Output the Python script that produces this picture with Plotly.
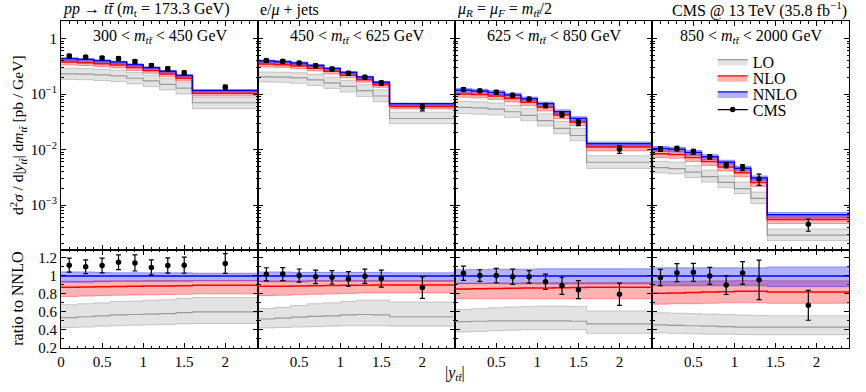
import plotly.graph_objects as go
from plotly.subplots import make_subplots

# bin edges in |y_tt| (last mass bin has one bin less)
edges_a = [0, 0.2, 0.4, 0.6, 0.8, 1.0, 1.2, 1.4, 1.6, 2.4]
edges_b = [0, 0.2, 0.4, 0.6, 0.8, 1.0, 1.2, 1.4, 2.4]
cms_x_a = [0.1, 0.3, 0.5, 0.7, 0.9, 1.1, 1.3, 1.5, 2.0]
cms_x_b = [0.1, 0.3, 0.5, 0.7, 0.9, 1.1, 1.3, 1.9]

mass_labels = ["300 < <i>m</i><sub><i>tt\u0304</i></sub> < 450 GeV",
               "450 < <i>m</i><sub><i>tt\u0304</i></sub> < 625 GeV",
               "625 < <i>m</i><sub><i>tt\u0304</i></sub> < 850 GeV",
               "850 < <i>m</i><sub><i>tt\u0304</i></sub> < 2000 GeV"]

# NNLO central values [pb/GeV]
nnlo_1 = [0.431, 0.42, 0.398, 0.377, 0.338, 0.299, 0.257, 0.216, 0.116]
nnlo_2 = [0.393, 0.382, 0.362, 0.328, 0.287, 0.244, 0.202, 0.163, 0.0665]
nnlo_3 = [0.1175, 0.114, 0.107, 0.096, 0.0826, 0.0665, 0.0481, 0.0362, 0.0127]
nnlo_4 = [0.0104, 0.0101, 0.00883, 0.00741, 0.00589, 0.00461, 0.00307, 0.000667]

# NNLO scale band (ratio to NNLO)
nnlo_up_1 = [1.045, 1.045, 1.04, 1.035, 1.035, 1.035, 1.035, 1.035, 1.03]
nnlo_dn_1 = [0.93, 0.93, 0.935, 0.94, 0.94, 0.94, 0.94, 0.94, 0.945]
nnlo_up_2 = [1.045, 1.045, 1.04, 1.04, 1.04, 1.04, 1.04, 1.04, 1.035]
nnlo_dn_2 = [0.935, 0.935, 0.935, 0.94, 0.94, 0.94, 0.94, 0.94, 0.94]
nnlo_up_3 = [1.07, 1.07, 1.075, 1.075, 1.075, 1.08, 1.08, 1.08, 1.08]
nnlo_dn_3 = [0.915, 0.915, 0.915, 0.912, 0.912, 0.91, 0.91, 0.91, 0.91]
nnlo_up_4 = [1.09, 1.09, 1.09, 1.09, 1.09, 1.09, 1.09, 1.1]
nnlo_dn_4 = [0.89, 0.89, 0.89, 0.89, 0.89, 0.89, 0.89, 0.88]

# NLO (ratio to NNLO)
nlo_1 = [0.873, 0.876, 0.88, 0.883, 0.885, 0.887, 0.889, 0.89, 0.895]
nlo_up_1 = [0.94, 0.94, 0.945, 0.945, 0.945, 0.948, 0.948, 0.95, 0.95]
nlo_dn_1 = [0.77, 0.775, 0.78, 0.785, 0.788, 0.79, 0.793, 0.795, 0.80]
nlo_2 = [0.884, 0.886, 0.888, 0.89, 0.892, 0.895, 0.897, 0.898, 0.90]
nlo_up_2 = [0.945, 0.945, 0.945, 0.948, 0.948, 0.95, 0.95, 0.95, 0.95]
nlo_dn_2 = [0.78, 0.785, 0.79, 0.795, 0.80, 0.805, 0.81, 0.81, 0.81]
nlo_3 = [0.855, 0.858, 0.86, 0.862, 0.865, 0.866, 0.868, 0.87, 0.873]
nlo_up_3 = [0.92, 0.92, 0.922, 0.922, 0.925, 0.925, 0.925, 0.925, 0.928]
nlo_dn_3 = [0.745, 0.745, 0.745, 0.745, 0.745, 0.745, 0.745, 0.745, 0.745]
nlo_4 = [0.807, 0.81, 0.815, 0.82, 0.825, 0.83, 0.83, 0.82]
nlo_up_4 = [0.94, 0.94, 0.942, 0.945, 0.945, 0.948, 0.948, 0.945]
nlo_dn_4 = [0.685, 0.69, 0.69, 0.695, 0.70, 0.70, 0.70, 0.695]

# LO (ratio to NNLO)
lo_1 = [0.535, 0.545, 0.555, 0.565, 0.57, 0.575, 0.58, 0.59, 0.60]
lo_up_1 = [0.68, 0.69, 0.70, 0.715, 0.72, 0.73, 0.735, 0.75, 0.76]
lo_dn_1 = [0.425, 0.43, 0.44, 0.445, 0.45, 0.455, 0.46, 0.465, 0.47]
lo_2 = [0.52, 0.53, 0.54, 0.55, 0.555, 0.565, 0.57, 0.565, 0.545]
lo_up_2 = [0.636, 0.65, 0.67, 0.69, 0.70, 0.715, 0.73, 0.73, 0.71]
lo_dn_2 = [0.42, 0.425, 0.43, 0.435, 0.44, 0.445, 0.445, 0.445, 0.44]
lo_3 = [0.49, 0.495, 0.50, 0.50, 0.50, 0.50, 0.50, 0.495, 0.465]
lo_up_3 = [0.625, 0.635, 0.645, 0.655, 0.66, 0.665, 0.665, 0.66, 0.61]
lo_dn_3 = [0.375, 0.38, 0.39, 0.395, 0.40, 0.40, 0.40, 0.40, 0.36]
lo_4 = [0.455, 0.45, 0.445, 0.44, 0.435, 0.43, 0.43, 0.43]
lo_up_4 = [0.59, 0.585, 0.58, 0.575, 0.57, 0.565, 0.56, 0.556]
lo_dn_4 = [0.364, 0.36, 0.355, 0.35, 0.35, 0.348, 0.345, 0.345]

# CMS data (ratio to NNLO) and total uncertainty
cms_1 = [1.12, 1.102, 1.116, 1.153, 1.145, 1.095, 1.116, 1.12, 1.138]
cms_err_1 = [0.078, 0.076, 0.082, 0.082, 0.09, 0.084, 0.085, 0.09, 0.11]
cms_2 = [1.018, 1.02, 1.004, 0.99, 0.985, 0.967, 0.996, 0.97, 0.87]
cms_err_2 = [0.073, 0.073, 0.073, 0.075, 0.075, 0.08, 0.08, 0.095, 0.12]
cms_3 = [1.03, 1.004, 1.004, 0.99, 0.99, 0.935, 0.89, 0.847, 0.796]
cms_err_3 = [0.08, 0.065, 0.08, 0.085, 0.07, 0.085, 0.095, 0.1, 0.124]
cms_4 = [0.982, 1.036, 1.04, 1.0, 0.898, 1.033, 0.956, 0.673]
cms_err_4 = [0.09, 0.1, 0.1, 0.095, 0.105, 0.127, 0.22, 0.167]

panels = [
    (edges_a, cms_x_a, nnlo_1, nnlo_up_1, nnlo_dn_1, nlo_1, nlo_up_1, nlo_dn_1, lo_1, lo_up_1, lo_dn_1, cms_1, cms_err_1),
    (edges_a, cms_x_a, nnlo_2, nnlo_up_2, nnlo_dn_2, nlo_2, nlo_up_2, nlo_dn_2, lo_2, lo_up_2, lo_dn_2, cms_2, cms_err_2),
    (edges_a, cms_x_a, nnlo_3, nnlo_up_3, nnlo_dn_3, nlo_3, nlo_up_3, nlo_dn_3, lo_3, lo_up_3, lo_dn_3, cms_3, cms_err_3),
    (edges_b, cms_x_b, nnlo_4, nnlo_up_4, nnlo_dn_4, nlo_4, nlo_up_4, nlo_dn_4, lo_4, lo_up_4, lo_dn_4, cms_4, cms_err_4),
]

FONT = "Liberation Serif"
styles = {
    "LO": dict(fill="rgba(0,0,0,0.11)", edge="rgba(0,0,0,0.18)", line="#9a9a9a", lw=1.2),
    "NLO": dict(fill="rgba(255,0,0,0.3)", edge="rgba(255,0,0,0.35)", line="#ff0000", lw=1.5),
    "NNLO": dict(fill="rgba(0,0,255,0.3)", edge="rgba(0,0,255,0.35)", line="#0000ff", lw=1.5),
}


def step(v):
    return list(v) + [v[-1]]


def mult(a, b):
    return [x * y for x, y in zip(a, b)]


fig = make_subplots(rows=2, cols=4, horizontal_spacing=0, vertical_spacing=0)

for c, p in enumerate(panels, start=1):
    edges, cx, nnlo, nnup, nndn, nlo, nlup, nldn, lo, loup, lodn, cms, cerr = p
    ones = [1.0] * len(nnlo)
    orders = [("LO", lo, loup, lodn), ("NLO", nlo, nlup, nldn), ("NNLO", ones, nnup, nndn)]
    for row in (1, 2):
        scale = nnlo if row == 1 else ones
        for name, cen, up, dn in orders:
            s = styles[name]
            fig.add_trace(go.Scatter(x=edges, y=step(mult(dn, scale)), mode="lines", line_shape="hv",
                                     line=dict(color=s["edge"], width=1), showlegend=False,
                                     hoverinfo="skip"), row=row, col=c)
            fig.add_trace(go.Scatter(x=edges, y=step(mult(up, scale)), mode="lines", line_shape="hv",
                                     line=dict(color=s["edge"], width=1), fill="tonexty",
                                     fillcolor=s["fill"], showlegend=False, hoverinfo="skip"),
                          row=row, col=c)
        for name, cen, up, dn in orders:
            s = styles[name]
            fig.add_trace(go.Scatter(x=edges, y=step(mult(cen, scale)), mode="lines", line_shape="hv",
                                     line=dict(color=s["line"], width=s["lw"]), showlegend=False),
                          row=row, col=c)
        fig.add_trace(go.Scatter(x=cx, y=mult(cms, scale), mode="markers",
                                 marker=dict(color="black", size=5.5),
                                 error_y=dict(type="data", array=mult(cerr, scale), color="black",
                                              thickness=1.2, width=2.5),
                                 showlegend=False), row=row, col=c)

# legend entries, one small legend per row so the spacing can match
W, H = 866, 392
legend_rows = {"LO": ("legend", 63), "NLO": ("legend2", 79.5), "NNLO": ("legend3", 96), "CMS": ("legend4", 112)}
for name in ["LO", "NLO", "NNLO"]:
    s = styles[name]
    fig.add_trace(go.Scatter(x=[None], y=[None], name=name, mode="lines", fill="toself",
                             fillcolor=s["fill"], line=dict(color=s["line"], width=1.2),
                             legend=legend_rows[name][0]), row=1, col=4)
fig.add_trace(go.Scatter(x=[None], y=[None], name="CMS", mode="lines+markers",
                         line=dict(color="black", width=1.2), marker=dict(color="black", size=5.5),
                         legend="legend4"), row=1, col=4)

# layout: panel domains in pixels
px_x = [57.3, 255.3, 453.3, 651.3, 849.3]
y_top, y_mid, y_bot = 21.7, 255.0, 355.7

log_minor = [k * 10 ** d for d in range(-4, 1) for k in range(2, 10)]
log_major = [1e-3, 1e-2, 1e-1, 1]
log_text = ["10<sup>\u22123</sup>", "10<sup>\u22122</sup>", "10<sup>\u22121</sup>", "1"]

axis_common = dict(showline=True, linecolor="black", linewidth=1, mirror="allticks",
                   ticks="inside", tickcolor="black", ticklen=5, showgrid=False, zeroline=False,
                   tickfont=dict(family=FONT, size=15, color="black"))

for c in range(4):
    dom = [px_x[c] / W, px_x[c + 1] / W]
    top_x = "xaxis" if c == 0 else f"xaxis{c + 1}"
    bot_x = f"xaxis{c + 5}"
    top_y = "yaxis" if c == 0 else f"yaxis{c + 1}"
    bot_y = f"yaxis{c + 5}"
    xt = [0, 0.5, 1, 1.5, 2] if c == 0 else [0.5, 1, 1.5, 2]
    xminor = dict(ticks="inside", ticklen=2.5, tickcolor="black", tickvals=[i / 10 for i in range(25)])
    fig.layout[top_x].update(domain=dom, range=[0, 2.4], tickvals=xt, showticklabels=False,
                             minor=xminor, **axis_common)
    fig.layout[bot_x].update(domain=dom, range=[0, 2.4], tickvals=xt, ticktext=[str(v) for v in xt],
                             minor=xminor, **axis_common)
    fig.layout[top_y].update(domain=[1 - y_mid / H, 1 - y_top / H], type="log", range=[-3.806, 0.311],
                             tickvals=log_major, ticktext=log_text, showticklabels=(c == 0),
                             minor=dict(ticks="inside", ticklen=2.5, tickcolor="black", tickvals=log_minor),
                             **axis_common)
    fig.layout[bot_y].update(domain=[1 - y_bot / H, 1 - y_mid / H], range=[0.192, 1.291],
                             tickvals=[0.2, 0.4, 0.6, 0.8, 1, 1.2],
                             ticktext=["0.2", "0.4", "0.6", "0.8", "1", "1.2"], showticklabels=(c == 0),
                             minor=dict(ticks="inside", ticklen=2.5, tickcolor="black",
                                        tickvals=[0.3, 0.5, 0.7, 0.9, 1.1]),
                             **axis_common)

ann = [
    dict(x=px_x[0] / W, y=1 - 10 / H, xanchor="left",
         text="<i>pp</i> \u2192 <i>tt\u0304</i> (<i>m</i><sub>t</sub> = 173.3 GeV)"),
    dict(x=px_x[1] / W, y=1 - 10 / H, xanchor="left", text="e/<i>\u03bc</i> + jets"),
    dict(x=px_x[2] / W, y=1 - 10 / H, xanchor="left",
         text="<i>\u03bc<sub>R</sub></i> = <i>\u03bc<sub>F</sub></i> = <i>m</i><sub><i>tt\u0304</i></sub>/2"),
    dict(x=px_x[4] / W, y=1 - 10 / H, xanchor="right",
         text="CMS @ 13 TeV (35.8 fb<sup>\u22121</sup>)"),
]
for c in range(4):
    ann.append(dict(x=(px_x[c] + px_x[c + 1]) / 2 / W, y=1 - 37 / H, xanchor="center", text=mass_labels[c]))
ann.append(dict(x=14 / W, y=1 - 138 / H, xanchor="center", textangle=-90, font_size=15.5,
                text="d<sup>2</sup><i>\u03c3</i> / d|<i>y</i><sub><i>tt\u0304</i></sub>| d<i>m</i><sub><i>tt\u0304</i></sub> [pb / GeV]"))
ann.append(dict(x=14 / W, y=1 - 305 / H, xanchor="center", textangle=-90, text="ratio to NNLO"))
ann.append(dict(x=453 / W, y=1 - 381 / H, xanchor="center", text="|<i>y</i><sub><i>tt\u0304</i></sub>|"))
for a in ann:
    size = a.pop("font_size", 16)
    a.update(xref="paper", yref="paper", yanchor="middle", showarrow=False,
             font=dict(family=FONT, size=size, color="black"))

leg_common = dict(xanchor="left", yanchor="middle", bgcolor="rgba(0,0,0,0)",
                  font=dict(family=FONT, size=16, color="black"))
leg_layout = {}
for name, (key, ypx) in legend_rows.items():
    leg_layout[key] = dict(x=712 / W, y=1 - ypx / H, **leg_common)

fig.update_layout(
    width=W, height=H, autosize=False,
    margin=dict(l=0, r=0, t=0, b=0),
    paper_bgcolor="white", plot_bgcolor="white",
    annotations=ann,
    showlegend=True,
    **leg_layout,
)

fig.write_html("out.html", config={"displayModeBar": False},
               post_script="document.body.style.margin='0px';")
